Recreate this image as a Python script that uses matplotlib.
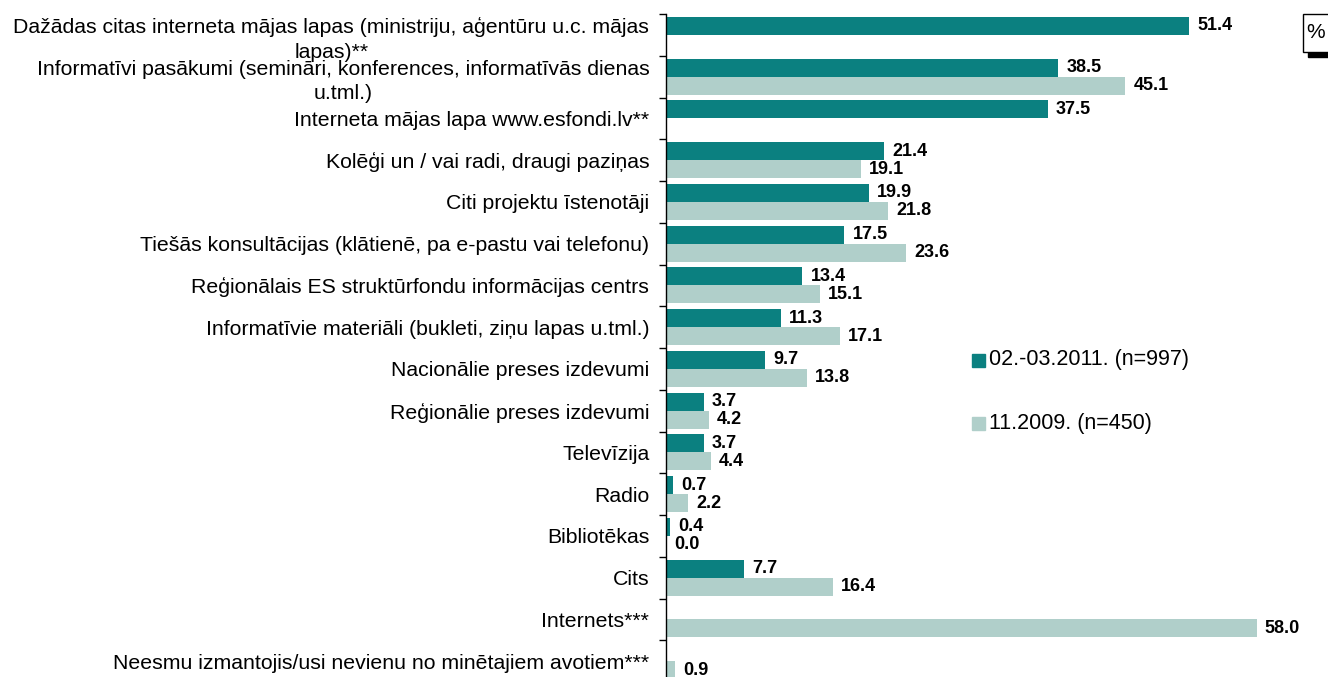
import matplotlib.pyplot as plt
import numpy as np
from matplotlib.patches import Rectangle

plt.rcParams['font.family'] = ['Liberation Sans', 'DejaVu Sans']

# data
categories = [
    'Dažādas citas interneta mājas lapas (ministriju, aģentūru u.c. mājas\nlapas)**',
    'Informatīvi pasākumi (semināri, konferences, informatīvās dienas\nu.tml.)',
    'Interneta mājas lapa www.esfondi.lv**',
    'Kolēģi un / vai radi, draugi paziņas',
    'Citi projektu īstenotāji',
    'Tiešās konsultācijas (klātienē, pa e-pastu vai telefonu)',
    'Reģionālais ES struktūrfondu informācijas centrs',
    'Informatīvie materiāli (bukleti, ziņu lapas u.tml.)',
    'Nacionālie preses izdevumi',
    'Reģionālie preses izdevumi',
    'Televīzija',
    'Radio',
    'Bibliotēkas',
    'Cits',
    'Internets***',
    'Neesmu izmantojis/usi nevienu no minētajiem avotiem***',
]
vals_2011 = [51.4, 38.5, 37.5, 21.4, 19.9, 17.5, 13.4, 11.3, 9.7, 3.7, 3.7, 0.7, 0.4, 7.7, None, None]
vals_2009 = [None, 45.1, None, 19.1, 21.8, 23.6, 15.1, 17.1, 13.8, 4.2, 4.4, 2.2, 0.0, 16.4, 58.0, 0.9]
series_names = ['02.-03.2011. (n=997)', '11.2009. (n=450)']

c_dark = '#0b8080'
c_light = '#b0cfca'

W, H = 1328, 677
fig = plt.figure(figsize=(W / 100, H / 100), dpi=100)
# axes top at y=14 px, ~41.75 px per row, runs a little past the bottom edge
ax_h = 16 * 41.75
ax = fig.add_axes([666 / W, (H - 14 - ax_h) / H, 662 / W, ax_h / H])

y = np.arange(len(categories))
bh = 0.43
off = 0.215

for vals, sign, col in [(vals_2011, -1, c_dark), (vals_2009, 1, c_light)]:
    for yi, v in zip(y, vals):
        if v is None:
            continue
        ax.barh(yi + sign * off, v, height=bh, color=col)
        ax.text(v + 0.8, yi + sign * off, f'{v:.1f}', va='center', ha='left',
                fontsize=13, fontweight='bold')

ax.set_xlim(0, 65)
ax.set_ylim(len(categories) - 0.5, -0.5)
ax.set_yticks(y)
ax.set_yticklabels(categories, fontsize=15.3, multialignment='center',
                   linespacing=1.35)
ax.tick_params(axis='y', which='major', length=0, pad=12)
ax.set_yticks(np.arange(len(categories) + 1) - 0.5, minor=True)
ax.tick_params(axis='y', which='minor', length=5, direction='out', width=1)
ax.set_xticks([])
for s in ['top', 'right', 'bottom']:
    ax.spines[s].set_visible(False)
ax.spines['left'].set_linewidth(1)

# legend
fig.patches.append(Rectangle((972 / W, 1 - 367 / H), 13 / W, 13 / H,
                             transform=fig.transFigure, color=c_dark))
fig.text(989 / W, 1 - 360 / H, series_names[0], fontsize=15.5, va='center')
fig.patches.append(Rectangle((972 / W, 1 - 430 / H), 13 / W, 13 / H,
                             transform=fig.transFigure, color=c_light))
fig.text(989 / W, 1 - 423 / H, series_names[1], fontsize=15.5, va='center')

# percent box
fig.patches.append(Rectangle((1308 / W, 1 - 57 / H), 25 / W, 5 / H,
                             transform=fig.transFigure, color='black'))
fig.patches.append(Rectangle((1303 / W, 1 - 52 / H), 30 / W, 38 / H,
                             transform=fig.transFigure, facecolor='white',
                             edgecolor='black', linewidth=1))
fig.text(1316 / W, 1 - 33 / H, '%', fontsize=15, ha='center', va='center')

fig.savefig('out.png', dpi=100)
